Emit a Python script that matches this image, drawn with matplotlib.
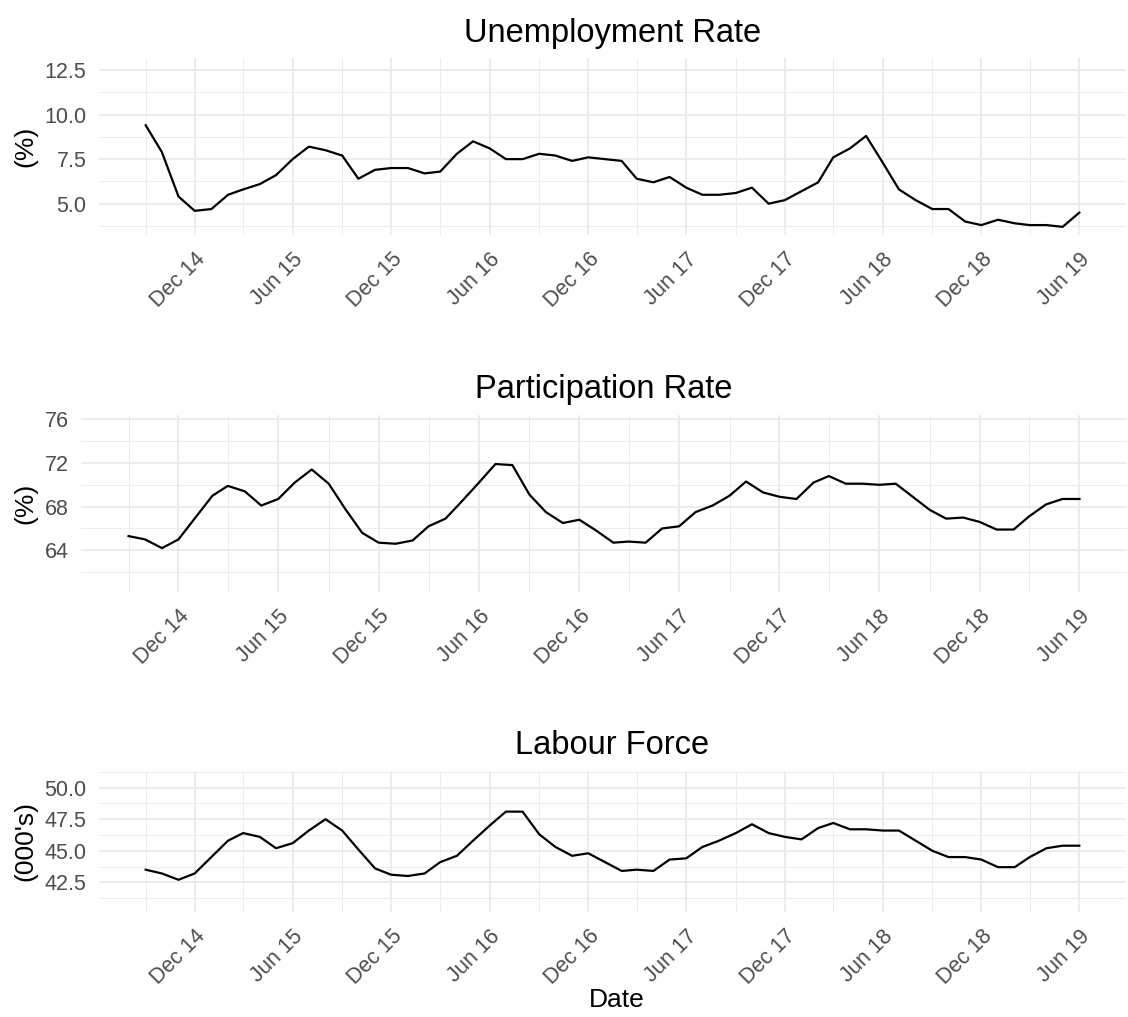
import matplotlib
matplotlib.use("Agg")
import matplotlib.pyplot as plt
import matplotlib.dates as mdates
import matplotlib.ticker as mticker
import pandas as pd

plt.rcParams['font.family'] = ['Liberation Sans', 'DejaVu Sans']

# monthly series, Sep 2014 - Jun 2019
dates = pd.date_range("2014-09-01", "2019-06-01", freq="MS")

unemployment = [9.4, 7.9, 5.4, 4.6,
                4.7, 5.5, 5.8, 6.1, 6.6, 7.5, 8.2, 8.0, 7.7, 6.4, 6.9, 7.0,
                7.0, 6.7, 6.8, 7.8, 8.5, 8.1, 7.5, 7.5, 7.8, 7.7, 7.4, 7.6,
                7.5, 7.4, 6.4, 6.2, 6.5, 5.9, 5.5, 5.5, 5.6, 5.9, 5.0, 5.2,
                5.7, 6.2, 7.6, 8.1, 8.8, 7.3, 5.8, 5.2, 4.7, 4.7, 4.0, 3.8,
                4.1, 3.9, 3.8, 3.8, 3.7, 4.5]

participation = [65.3, 65.0, 64.2, 65.0,
                 67.0, 69.0, 69.9, 69.4, 68.1, 68.7, 70.2, 71.4, 70.1, 67.8, 65.6, 64.7,
                 64.6, 64.9, 66.2, 66.9, 68.5, 70.2, 71.9, 71.8, 69.1, 67.5, 66.5, 66.8,
                 65.8, 64.7, 64.8, 64.7, 66.0, 66.2, 67.5, 68.1, 69.0, 70.3, 69.3, 68.9,
                 68.7, 70.2, 70.8, 70.1, 70.1, 70.0, 70.1, 68.9, 67.7, 66.9, 67.0, 66.6,
                 65.9, 65.9, 67.1, 68.2, 68.7, 68.7]

labour_force = [43.5, 43.2, 42.7, 43.2,
                44.5, 45.8, 46.4, 46.1, 45.2, 45.6, 46.6, 47.5, 46.6, 45.1, 43.6, 43.1,
                43.0, 43.2, 44.1, 44.6, 45.8, 47.0, 48.1, 48.1, 46.3, 45.3, 44.6, 44.8,
                44.1, 43.4, 43.5, 43.4, 44.3, 44.4, 45.3, 45.8, 46.4, 47.1, 46.4, 46.1,
                45.9, 46.8, 47.2, 46.7, 46.7, 46.6, 46.6, 45.8, 45.0, 44.5, 44.5, 44.3,
                43.7, 43.7, 44.5, 45.2, 45.4, 45.4]

titles = ["Unemployment Rate", "Participation Rate", "Labour Force"]
ylabels = ["(%)", "(%)", "(000's)"]

W, H = 1128, 1017
fig = plt.figure(figsize=(W / 100, H / 100), dpi=100)

# panel boxes in pixels: left, top, right, bottom
boxes = [(99, 58.3, 1126, 235), (81, 415, 1127, 591.7), (99, 771, 1126, 911.7)]
ylims = [(3.244, 13.156), (60.21, 76.39), (40.17, 51.32)]
ymajor = [[5.0, 7.5, 10.0, 12.5], [64, 68, 72, 76], [42.5, 45.0, 47.5, 50.0]]
yminor = [[3.75, 6.25, 8.75, 11.25], [62, 66, 70, 74], [41.25, 43.75, 46.25, 48.75, 51.25]]
yfmt = ['%.1f', '%d', '%.1f']
series = [unemployment, participation, labour_force]

span = dates[-1] - dates[0]
xlo, xhi = dates[0] - span * 0.05, dates[-1] + span * 0.05

for i in range(3):
    l, t, r, b = boxes[i]
    ax = fig.add_axes([l / W, 1 - b / H, (r - l) / W, (b - t) / H])
    ax.plot(dates, series[i], color='black', linewidth=1.6, zorder=3)
    ax.set_xlim(xlo, xhi)
    ax.set_ylim(*ylims[i])

    ax.xaxis.set_major_locator(mdates.MonthLocator(bymonth=[6, 12]))
    ax.xaxis.set_minor_locator(mdates.MonthLocator(bymonth=[3, 9]))
    ax.xaxis.set_major_formatter(mdates.DateFormatter('%b %y'))
    ax.yaxis.set_major_locator(mticker.FixedLocator(ymajor[i]))
    ax.yaxis.set_minor_locator(mticker.FixedLocator(yminor[i]))
    ax.yaxis.set_major_formatter(mticker.FormatStrFormatter(yfmt[i]))

    ax.grid(which='major', color='#EBEBEB', linewidth=1.3)
    ax.grid(which='minor', color='#EBEBEB', linewidth=0.65)
    ax.set_axisbelow(True)
    for s in ax.spines.values():
        s.set_visible(False)

    ax.tick_params(which='both', length=0)
    ax.tick_params(axis='y', labelsize=15.5, labelcolor='#4D4D4D', pad=9)
    ax.tick_params(axis='x', labelsize=15.5, labelcolor='#4D4D4D', pad=10)
    for lab in ax.get_xticklabels():
        lab.set_rotation(45)
        lab.set_ha('right')
        lab.set_va('top')
        lab.set_rotation_mode('anchor')

    ax.set_title(titles[i], fontsize=23.5, pad=12)
    ax.set_ylabel(ylabels[i], fontsize=19)
    ax.yaxis.set_label_coords((37 - l) / (r - l), 0.5)

fig.text(617 / W, 1 - 1000 / H, "Date", fontsize=19, ha='center', va='center')

fig.savefig("out.png", dpi=100, facecolor='white')
